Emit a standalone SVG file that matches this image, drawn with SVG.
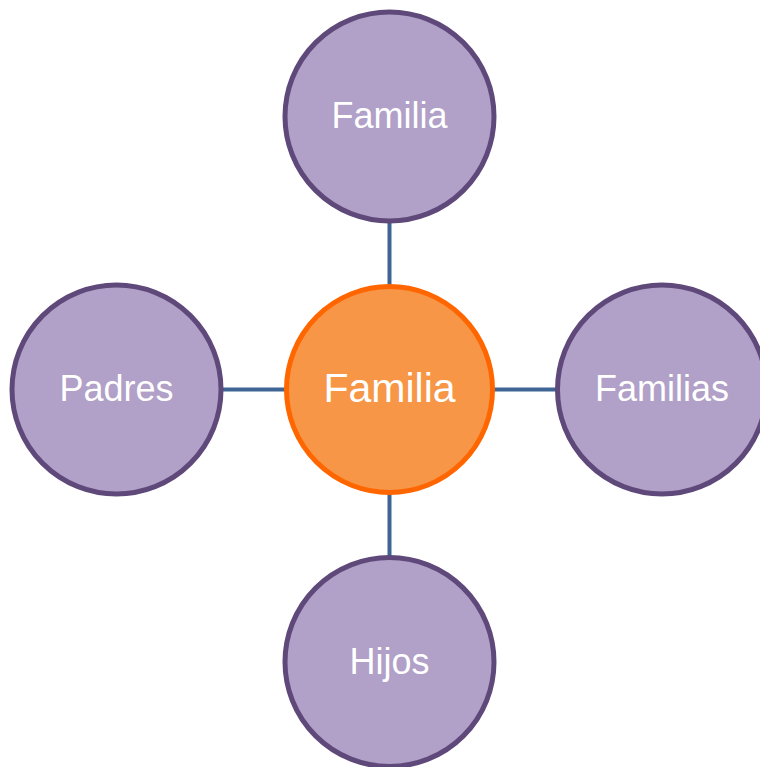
<svg xmlns="http://www.w3.org/2000/svg" width="760" height="767" viewBox="0 0 760 767">
<style>
.sat{fill:#B1A0C7;stroke:#5F497A;stroke-width:5}
.hub{fill:#F79646;stroke:#FF6600;stroke-width:5}
.lbl{font-family:"Liberation Sans",Arial,sans-serif;fill:#FFFFFF;text-anchor:middle}
.conn{stroke:#3F6594;stroke-width:4;fill:none}
</style>
<rect width="760" height="767" fill="#FFFFFF"/>
<g id="connectors">
<line class="conn" x1="389.5" y1="220" x2="389.5" y2="287"/>
<line class="conn" x1="389.5" y1="492" x2="389.5" y2="559"/>
<line class="conn" x1="220" y1="389.5" x2="287" y2="389.5"/>
<line class="conn" x1="492" y1="389.5" x2="559" y2="389.5"/>
</g>
<g id="node-top"><circle class="sat" cx="389.5" cy="116.5" r="104.5"/><text class="lbl" x="389.5" y="128" font-size="36">Familia</text></g>
<g id="node-left"><circle class="sat" cx="116.5" cy="389.5" r="104.5"/><text class="lbl" x="116.5" y="401" font-size="36">Padres</text></g>
<g id="node-right"><circle class="sat" cx="662" cy="389.5" r="104.5"/><text class="lbl" x="662" y="401" font-size="36">Familias</text></g>
<g id="node-bottom"><circle class="sat" cx="389.5" cy="662" r="104.5"/><text class="lbl" x="389.5" y="674" font-size="36">Hijos</text></g>
<g id="node-center"><circle class="hub" cx="389.5" cy="389.5" r="103"/><text class="lbl" x="389.5" y="402" font-size="41">Familia</text></g>
</svg>
